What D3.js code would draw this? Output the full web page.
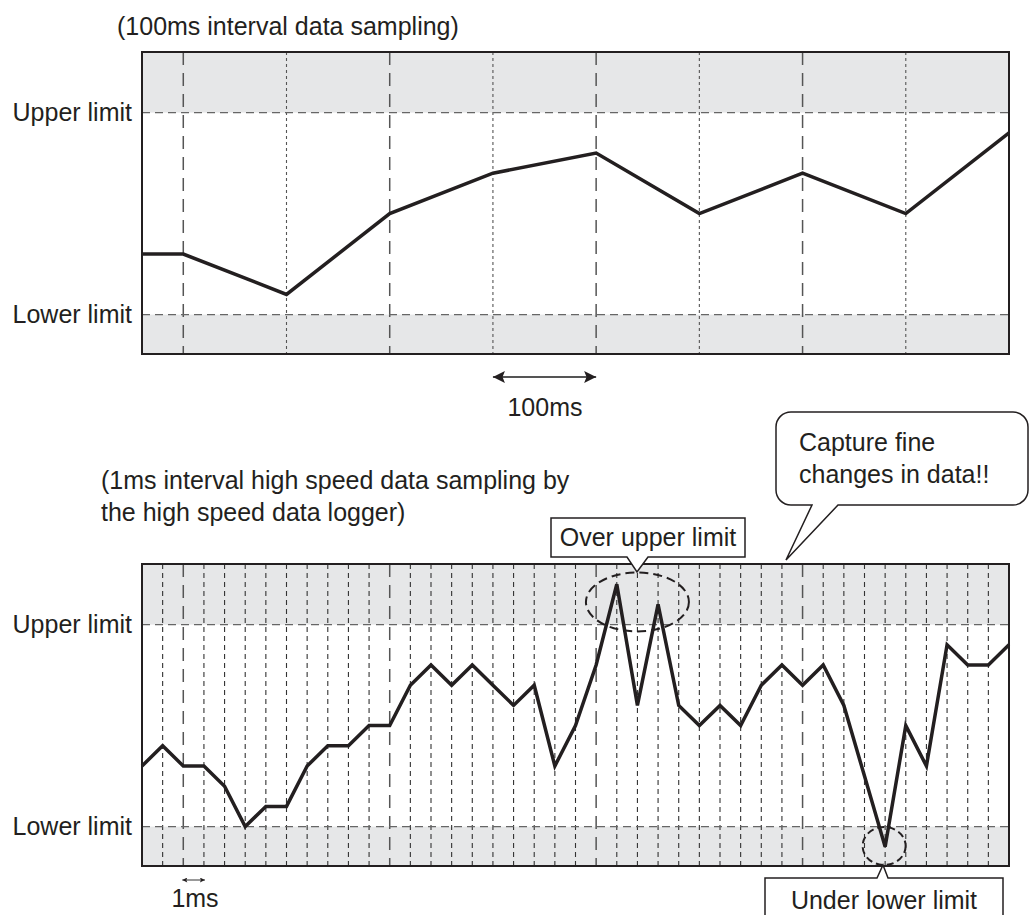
<!DOCTYPE html>
<html>
<head>
<meta charset="utf-8">
<script src="https://d3js.org/d3.v7.min.js"></script>
<style>
  body { margin: 0; background: #fff; }
  text { font-family: "Liberation Sans", Arial, sans-serif; fill: #231f20; }
</style>
</head>
<body>
<div id="chart-area"></div>
<script>
// sample positions (1ms steps) and values, limits at 0 and 100
var topSamples = [0, 2, 7, 12, 17, 22, 27, 32, 37, 42];
var topValues = [30, 30, 10, 50, 70, 80, 50, 70, 50, 90];

var bottomSamples = d3.range(0, 43);
var bottomValues = [30, 40, 30, 30, 20, 0, 10, 10, 30, 40,
                    40, 50, 50, 70, 80, 70, 80, 70, 60, 70,
                    30, 50, 80, 120, 60, 110, 60, 50, 60, 50,
                    70, 80, 70, 80, 60, 25, -10, 50, 30, 90,
                    80, 80, 90];

var limitValues = [0, 100];
var limitLabels = ["Lower limit", "Upper limit"];
var majorTicks = [2, 12, 22, 32];
var minorTicksTop = [7, 17, 27, 37];
var minorTicksBottom = d3.range(1, 42).filter(function(d) { return majorTicks.indexOf(d) < 0; });

var width = 867, height = 302;
var ink = "#231f20", grey = "#e6e7e8";

var svg = d3.select("#chart-area").append("svg")
    .attr("width", 1032)
    .attr("height", 915);

var x = d3.scaleLinear().domain([0, 42]).range([0, width]);
var y = d3.scaleLinear().domain([-19.5, 130]).range([height, 0]);

var line = d3.line()
    .x(function(d) { return x(d[0]); })
    .y(function(d) { return y(d[1]); });

function panel(top, samples, values, minorTicks, minorDash, minorColor) {
    var g = svg.append("g")
        .attr("transform", "translate(142," + top + ")");

    g.append("rect")
        .attr("width", width).attr("height", height)
        .attr("fill", "#fff");
    g.append("rect")
        .attr("y", y(130)).attr("width", width)
        .attr("height", y(100) - y(130))
        .attr("fill", grey);
    g.append("rect")
        .attr("y", y(0)).attr("width", width)
        .attr("height", y(-19.5) - y(0))
        .attr("fill", grey);

    g.selectAll(".minor").data(minorTicks).enter().append("line")
        .attr("class", "minor")
        .attr("x1", x).attr("x2", x)
        .attr("y1", 0).attr("y2", height)
        .attr("stroke", minorColor)
        .attr("stroke-width", 1.1)
        .attr("stroke-dasharray", minorDash);

    g.selectAll(".major").data(majorTicks).enter().append("line")
        .attr("class", "major")
        .attr("x1", x).attr("x2", x)
        .attr("y1", 0).attr("y2", height)
        .attr("stroke", "#555")
        .attr("stroke-width", 1.5)
        .attr("stroke-dasharray", "13,8");

    g.selectAll(".limit").data(limitValues).enter().append("line")
        .attr("class", "limit")
        .attr("x1", 0).attr("x2", width)
        .attr("y1", y).attr("y2", y)
        .attr("stroke", "#666")
        .attr("stroke-width", 1.4)
        .attr("stroke-dasharray", "8,5");

    var yAxis = g.append("g")
        .call(d3.axisLeft(y).tickValues(limitValues).tickSize(0).tickPadding(10)
            .tickFormat(function(d, i) { return limitLabels[i]; }));
    yAxis.select(".domain").remove();
    yAxis.selectAll("text")
        .attr("font-size", 25)
        .attr("font-family", "Liberation Sans, Arial, sans-serif")
        .attr("fill", ink);

    g.append("path")
        .datum(samples.map(function(s, i) { return [s, values[i]]; }))
        .attr("d", line)
        .attr("fill", "none")
        .attr("stroke", ink)
        .attr("stroke-width", 3.5)
        .attr("stroke-linejoin", "miter");

    g.append("rect")
        .attr("width", width).attr("height", height)
        .attr("fill", "none")
        .attr("stroke", ink)
        .attr("stroke-width", 2);

    return g;
}

var top1 = panel(52, topSamples, topValues, minorTicksTop, "3,3", "#555");
var bot = panel(564, bottomSamples, bottomValues, minorTicksBottom, "5,4", "#333");

// titles
svg.append("text").attr("x", 117).attr("y", 35)
    .attr("font-size", 25).text("(100ms interval data sampling)");
svg.append("text").attr("x", 101).attr("y", 489)
    .attr("font-size", 25).text("(1ms interval high speed data sampling by");
svg.append("text").attr("x", 101).attr("y", 521)
    .attr("font-size", 25).text("the high speed data logger)");

// arrows
var defs = svg.append("defs");
defs.append("marker")
    .attr("id", "head")
    .attr("viewBox", "0 0 10 10")
    .attr("refX", 10).attr("refY", 5)
    .attr("markerUnits", "userSpaceOnUse")
    .attr("markerWidth", 22).attr("markerHeight", 12)
    .attr("orient", "auto-start-reverse")
    .append("path").attr("d", "M0,0L10,5L0,10L2,5Z").attr("fill", ink);
defs.append("marker")
    .attr("id", "headSmall")
    .attr("viewBox", "0 0 10 10")
    .attr("refX", 10).attr("refY", 5)
    .attr("markerUnits", "userSpaceOnUse")
    .attr("markerWidth", 8).attr("markerHeight", 5)
    .attr("orient", "auto-start-reverse")
    .append("path").attr("d", "M0,0L10,5L0,10L2,5Z").attr("fill", ink);

svg.append("line")
    .attr("x1", 142 + x(17)).attr("x2", 142 + x(22))
    .attr("y1", 377).attr("y2", 377)
    .attr("stroke", "#555").attr("stroke-width", 2)
    .attr("marker-start", "url(#head)").attr("marker-end", "url(#head)");
svg.append("text").attr("x", 545).attr("y", 416)
    .attr("text-anchor", "middle").attr("font-size", 25).text("100ms");

svg.append("line")
    .attr("x1", 142 + x(2) - 1).attr("x2", 142 + x(3) + 1)
    .attr("y1", 880).attr("y2", 880)
    .attr("stroke", "#555").attr("stroke-width", 1.2)
    .attr("marker-start", "url(#headSmall)").attr("marker-end", "url(#headSmall)");
svg.append("text").attr("x", 195).attr("y", 907)
    .attr("text-anchor", "middle").attr("font-size", 25).text("1ms");

// dashed ellipses around out-of-limit samples
bot.append("ellipse")
    .attr("cx", (x(23) + x(25)) / 2).attr("cy", 38)
    .attr("rx", 51.5).attr("ry", 29.5)
    .attr("fill", "none").attr("stroke", ink)
    .attr("stroke-width", 2).attr("stroke-dasharray", "9,5");
bot.append("ellipse")
    .attr("cx", x(36) - 1).attr("cy", 282)
    .attr("rx", 21.5).attr("ry", 19)
    .attr("fill", "none").attr("stroke", ink)
    .attr("stroke-width", 2).attr("stroke-dasharray", "7,4");

// callout boxes
svg.append("path")
    .attr("d", "M551,518H745V557H648L637,572L627,557H551Z")
    .attr("fill", "#fff").attr("stroke", ink).attr("stroke-width", 1.5);
svg.append("text").attr("x", 648).attr("y", 546)
    .attr("text-anchor", "middle").attr("font-size", 25).text("Over upper limit");

svg.append("path")
    .attr("d", "M765,920V878H877L883,865L888,878H1003V920")
    .attr("fill", "#fff").attr("stroke", ink).attr("stroke-width", 1.5);
svg.append("text").attr("x", 884).attr("y", 909)
    .attr("text-anchor", "middle").attr("font-size", 25).text("Under lower limit");

var bx0 = 776, by0 = 412, bx1 = 1028, by1 = 505, r = 15;
svg.append("path")
    .attr("d", "M" + (bx0 + r) + "," + by0 + "H" + (bx1 - r) +
        "A" + r + "," + r + " 0 0 1 " + bx1 + "," + (by0 + r) +
        "V" + (by1 - r) +
        "A" + r + "," + r + " 0 0 1 " + (bx1 - r) + "," + by1 +
        "H838L786,560L812," + by1 + "H" + (bx0 + r) +
        "A" + r + "," + r + " 0 0 1 " + bx0 + "," + (by1 - r) +
        "V" + (by0 + r) +
        "A" + r + "," + r + " 0 0 1 " + (bx0 + r) + "," + by0 + "Z")
    .attr("fill", "#fff").attr("stroke", ink).attr("stroke-width", 1.5);
svg.append("text").attr("x", 799).attr("y", 451)
    .attr("font-size", 25).text("Capture fine");
svg.append("text").attr("x", 799).attr("y", 483)
    .attr("font-size", 25).text("changes in data!!");
</script>
</body>
</html>
